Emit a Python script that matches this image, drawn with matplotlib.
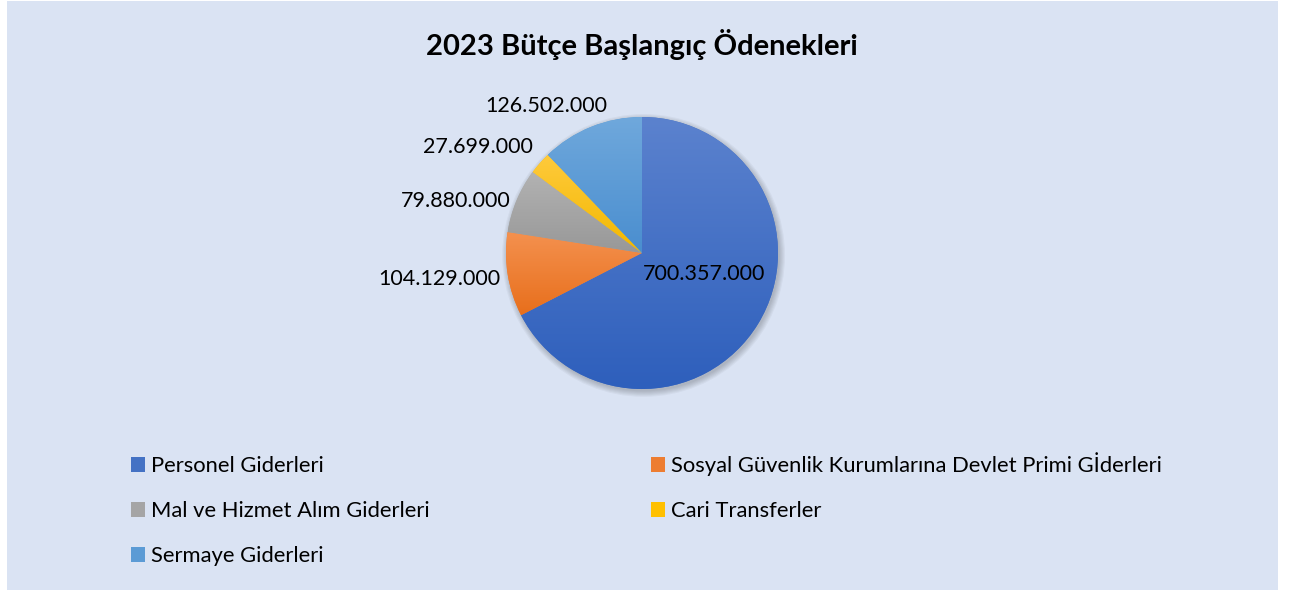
import numpy as np
import matplotlib
matplotlib.use("Agg")
import matplotlib.pyplot as plt
from matplotlib.patches import Rectangle, Circle

# ---- data ----
categories = ["Personel Giderleri",
              "Sosyal Güvenlik Kurumlarına Devlet Primi Gİderleri",
              "Mal ve Hizmet Alım Giderleri",
              "Cari Transferler",
              "Sermaye Giderleri"]
values = [700357000, 104129000, 79880000, 27699000, 126502000]
value_labels = ["700.357.000", "104.129.000", "79.880.000", "27.699.000", "126.502.000"]
title = "2023 Bütçe Başlangıç Ödenekleri"

# ---- style ----
colors = ["#4472C4", "#ED7D31", "#A5A5A5", "#FFC000", "#5B9BD5"]
grad_top = ["#5B82CE", "#F4914F", "#B2B2B2", "#FFCA3C", "#6FA8DC"]
grad_bot = ["#2E5FBC", "#E86F1C", "#989898", "#F2B800", "#4A8ECF"]
# label offsets from wedge edge mid-point (pixels)
label_offsets = [(-54, 50), (-68, -4), (-61, 0), (-62, 16), (-45, 21)]
# legend layout: (x px of marker, baseline y px)
legend_pos = [(131, 476), (651, 476), (131, 521), (651, 521), (131, 566)]
bg = "#DAE3F3"
FONT = "Lato"

W, H = 1293, 592
fig = plt.figure(figsize=(W / 100, H / 100), dpi=100, facecolor="white")
fig.patches.append(Rectangle((7 / W, 1 - 590 / H), (1278 - 7) / W, (590 - 1) / H,
                             transform=fig.transFigure, facecolor=bg,
                             edgecolor="none", zorder=-10))

cx, cy, r = 642, 253, 136
ax = fig.add_axes([(cx - r) / W, 1 - (cy + r) / H, 2 * r / W, 2 * r / H])
ax.set_zorder(1)
wedges, _ = ax.pie(values, colors=colors, startangle=90, counterclock=False,
                   radius=1, wedgeprops=dict(linewidth=0, zorder=2))
ax.set_aspect("equal")
ax.axis("off")

# soft shadow under the pie
for k in range(6):
    ax.add_patch(Circle((0.012, -0.018), 1.0 + 0.008 * k, facecolor="#000000",
                        alpha=0.035, edgecolor="none", zorder=1, clip_on=False))

# gradient fill per wedge
for w, t, b in zip(wedges, grad_top, grad_bot):
    verts = w.get_patch_transform().transform(w.get_path().vertices)
    x0, x1 = verts[:, 0].min(), verts[:, 0].max()
    y0, y1 = verts[:, 1].min(), verts[:, 1].max()
    top = np.array(matplotlib.colors.to_rgb(t))
    bot = np.array(matplotlib.colors.to_rgb(b))
    f = np.linspace(0, 1, 64)[:, None]
    grad = top[None, :] * (1 - f) + bot[None, :] * f
    img = np.repeat(grad[:, None, :], 2, axis=1)
    im = ax.imshow(img, extent=(x0, x1, y0, y1), origin="upper",
                   aspect="auto", zorder=3, interpolation="bilinear")
    im.set_clip_path(w)
ax.set_xlim(-1, 1)
ax.set_ylim(-1, 1)

# value labels
for w, lab, off in zip(wedges, value_labels, label_offsets):
    ang = np.deg2rad((w.theta1 + w.theta2) / 2)
    ax.annotate(lab, xy=(np.cos(ang), np.sin(ang)), xytext=off,
                textcoords="offset pixels", ha="center", va="center",
                fontsize=15.5, family=FONT, color="#000000", zorder=5,
                annotation_clip=False)

fig.text(cx / W, 1 - 44 / H, title, ha="center", va="center",
         fontsize=21, fontweight="bold", family=FONT)

# legend entries (row-wise order, as in the original)
leg_kw = dict(frameon=False, prop={"family": FONT, "size": 15.8},
              handlelength=0.64, handleheight=0.64, handletextpad=0.25,
              borderpad=0, borderaxespad=0, loc="lower left")
for i, (lx, ly) in enumerate(legend_pos):
    fig.legend([wedges[i]], [categories[i]],
               bbox_to_anchor=(lx / W, 1 - ly / H), **leg_kw)

fig.savefig("out.png", dpi=100, facecolor="white")
